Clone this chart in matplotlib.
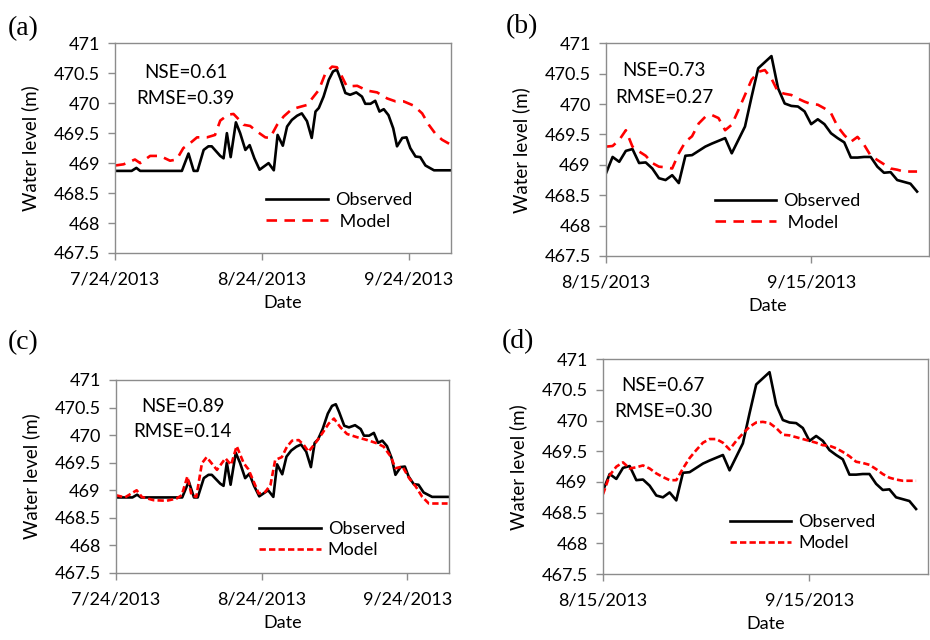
import datetime as dt
import matplotlib
matplotlib.use("Agg")
import matplotlib.pyplot as plt

plt.rcParams['font.family'] = ['Lato', 'DejaVu Sans']

# panels (a)/(c): period starting 7/24/2013, panels (b)/(d): starting 8/15/2013
start_ac = dt.datetime(2013, 7, 24)
start_bd = dt.datetime(2013, 8, 15)

# observed level, site of (a) and (c)  (day offset, value)
obs_ac_day = [0, 3.5, 4.5, 5.3, 14.1, 15.5, 16.6, 17.4, 18.7, 19.7, 20.4, 22.2, 22.9,
              23.6, 24.4, 25.5, 26.4, 27.5, 28.4, 29.4, 30.5, 32.4, 33.5, 34.3, 35.4,
              36.3, 37.3, 38.4, 39.4, 40.5, 41.5, 42.3, 43, 44, 45.1, 46, 46.8, 47.5,
              48.6, 49.6, 50.9, 52.1, 52.8, 53.9, 54.9, 55.8, 56.7, 57.7, 58.7, 59.5,
              60.6, 61.5, 62.3, 63.4, 64.4, 65.5, 67.3, 70.8]
obs_ac = [468.87, 468.87, 468.92, 468.87, 468.87, 469.16, 468.87, 468.87, 469.22, 469.28,
          469.28, 469.12, 469.08, 469.5, 469.1, 469.68, 469.5, 469.22, 469.3, 469.08,
          468.89, 469.0, 468.88, 469.47, 469.29, 469.61, 469.72, 469.79, 469.83, 469.7,
          469.42, 469.86, 469.92, 470.11, 470.39, 470.53, 470.56, 470.42, 470.17, 470.14,
          470.18, 470.11, 469.99, 469.99, 470.04, 469.86, 469.9, 469.8, 469.58, 469.28,
          469.42, 469.43, 469.25, 469.11, 469.1, 468.96, 468.88, 468.88]

mod_a_day = [0, 1.8, 4.2, 5.3, 7.4, 9.5, 11.6, 13, 14.4, 15.8, 17.3, 19.4, 21.1, 22.2,
             23.9, 25, 26.1, 27.1, 28.5, 29.9, 31.7, 32.7, 34.2, 35.6, 37.3, 39.1, 40.5,
             41.9, 43, 44.4, 45.8, 46.8, 47.9, 48.9, 51.1, 53.2, 55.3, 57.4, 59.2, 60.9,
             63, 64.8, 66.2, 67.6, 69, 70.8]
mod_a = [468.96, 468.98, 469.06, 469.0, 469.12, 469.12, 469.04, 469.06, 469.25, 469.33,
         469.43, 469.43, 469.47, 469.71, 469.81, 469.82, 469.73, 469.64, 469.62, 469.53,
         469.43, 469.42, 469.64, 469.78, 469.9, 469.94, 469.97, 470.11, 470.22, 470.5,
         470.61, 470.6, 470.44, 470.28, 470.29, 470.21, 470.18, 470.08, 470.03, 470.03,
         469.96, 469.83, 469.64, 469.49, 469.39, 469.31]

mod_c_day = [0, 1.9, 4.4, 5.5, 8, 10.8, 12.9, 14, 15.2, 16.1, 17.1, 18.3, 19.3, 21.5,
             23.3, 24.5, 25.7, 27.2, 28.2, 29.3, 30.4, 31.8, 32.9, 33.9, 35.3, 36.4,
             37.5, 38.9, 40, 41, 42.5, 43.9, 45.3, 46.4, 47.8, 49.2, 51.4, 53.5, 55.6,
             57, 58.5, 59.5, 61, 62.4, 63.8, 65.2, 66.6, 70.6]
mod_c = [468.91, 468.87, 469.0, 468.88, 468.82, 468.81, 468.85, 468.91, 469.25, 468.91,
         468.88, 469.49, 469.6, 469.37, 469.58, 469.46, 469.8, 469.49, 469.38, 469.16,
         468.94, 468.97, 469.1, 469.55, 469.6, 469.79, 469.9, 469.91, 469.82, 469.7,
         469.86, 470.03, 470.21, 470.3, 470.14, 470.02, 469.96, 469.91, 469.85, 469.79,
         469.61, 469.4, 469.43, 469.22, 469.07, 468.88, 468.76, 468.76]

# observed level, site of (b) and (d)
obs_bd_day = [0, 1, 2, 3, 4, 5, 6, 7, 8, 9, 10, 11, 12, 13, 15, 16, 18, 19, 20, 21, 22,
              23, 25, 26, 27, 28, 29, 30, 31, 32, 33, 34, 35, 36, 37, 38, 39, 40, 41, 42,
              43, 44, 45, 46, 47]
obs_bd = [468.86, 469.13, 469.05, 469.23, 469.26, 469.03, 469.04, 468.94, 468.78, 468.75,
          468.83, 468.7, 469.15, 469.16, 469.3, 469.35, 469.44, 469.19, 469.41, 469.63,
          470.12, 470.59, 470.79, 470.26, 470.01, 469.97, 469.96, 469.88, 469.67, 469.75,
          469.67, 469.52, 469.44, 469.37, 469.12, 469.12, 469.13, 469.13, 468.97, 468.87,
          468.88, 468.75, 468.72, 468.69, 468.56]

# daily model values from 8/15/2013
mod_b = [469.3, 469.31, 469.41, 469.57, 469.3, 469.22, 469.15, 469.03, 468.97, 468.96,
         468.94, 469.19, 469.38, 469.47, 469.68, 469.79, 469.82, 469.77, 469.57, 469.66,
         469.9, 470.15, 470.4, 470.53, 470.56, 470.42, 470.2, 470.17, 470.15, 470.09,
         470.04, 470.0, 469.99, 469.93, 469.85, 469.63, 469.49, 469.38, 469.46, 469.33,
         469.15, 469.08, 469.01, 468.94, 468.92, 468.89, 468.89, 468.89]
mod_d = [468.8, 469.11, 469.25, 469.32, 469.22, 469.24, 469.27, 469.22, 469.14, 469.08,
         469.03, 469.03, 469.22, 469.39, 469.52, 469.64, 469.7, 469.7, 469.64, 469.53,
         469.67, 469.79, 469.9, 469.97, 469.98, 469.96, 469.88, 469.77, 469.76, 469.73,
         469.7, 469.67, 469.64, 469.6, 469.59, 469.55, 469.49, 469.42, 469.33, 469.31,
         469.28, 469.21, 469.13, 469.07, 469.04, 469.02, 469.02, 469.02]

stats = {'a': ('0.61', '0.39'), 'b': ('0.73', '0.27'),
         'c': ('0.89', '0.14'), 'd': ('0.67', '0.30')}

ticks_ac = [dt.datetime(2013, 7, 24), dt.datetime(2013, 8, 24), dt.datetime(2013, 9, 24)]
ticks_bd = [dt.datetime(2013, 8, 15), dt.datetime(2013, 9, 15)]


def to_dates(start, days):
    return [start + dt.timedelta(days=d) for d in days]


def panel(ax, tag, start, span, ticks, o_day, o_val, m_day, m_val, dashes,
          mlabel, leg_xy, txt_xy):
    ax.plot(to_dates(start, o_day), o_val, color='black', lw=1.9, label='Observed')
    ax.plot(to_dates(start, m_day), m_val, color='red', lw=1.9, dashes=dashes,
            label=mlabel)
    ax.set_xlim(start, start + dt.timedelta(days=span))
    ax.set_ylim(467.5, 471)
    ax.set_yticks([467.5 + 0.5 * i for i in range(8)])
    ax.set_yticklabels(['%g' % (467.5 + 0.5 * i) for i in range(8)])
    ax.set_xticks(ticks)
    ax.set_xticklabels([f"{t.month}/{t.day}/{t.year}" for t in ticks])
    for s in ax.spines.values():
        s.set_color('#8c8c8c')
        s.set_linewidth(1.0)
    ax.tick_params(colors='#8c8c8c', labelcolor='black', labelsize=13,
                   length=5, width=1.0)
    ax.tick_params(axis='y', pad=6)
    ax.tick_params(axis='x', pad=8)
    ax.set_xlabel('Date', fontsize=13, labelpad=6)
    ax.set_ylabel('Water level (m)', fontsize=13.5, labelpad=10)
    nse, rmse = stats[tag]
    ax.text(txt_xy[0], txt_xy[1], f'NSE={nse}', transform=ax.transAxes,
            ha='center', va='center', fontsize=13.5)
    ax.text(txt_xy[0], txt_xy[1] - 0.125, f'RMSE={rmse}', transform=ax.transAxes,
            ha='center', va='center', fontsize=13.5)
    ax.legend(loc='upper left', bbox_to_anchor=leg_xy, frameon=False,
              fontsize=13, handlelength=3.4, handletextpad=0.4,
              labelspacing=0.3, borderaxespad=0, borderpad=0)


fig = plt.figure(figsize=(9.3, 6.4), dpi=100)
ax_a = fig.add_axes([0.1237, 0.6047, 0.3613, 0.3277])
ax_b = fig.add_axes([0.6516, 0.6000, 0.3473, 0.3323])
ax_c = fig.add_axes([0.1247, 0.1047, 0.3581, 0.3016])
ax_d = fig.add_axes([0.6484, 0.1031, 0.3495, 0.3355])

panel(ax_a, 'a', start_ac, 70.9, ticks_ac, obs_ac_day, obs_ac, mod_a_day, mod_a,
      (4, 2.8), ' Model', (0.45, 0.29), (0.21, 0.86))
panel(ax_b, 'b', start_bd, 48.8, ticks_bd, obs_bd_day, obs_bd, range(len(mod_b)), mod_b,
      (4, 2.8), ' Model', (0.337, 0.295), (0.18, 0.87))
panel(ax_c, 'c', start_ac, 70.9, ticks_ac, obs_ac_day, obs_ac, mod_c_day, mod_c,
      (2.4, 1.2), 'Model', (0.43, 0.27), (0.2, 0.86))
panel(ax_d, 'd', start_bd, 48.8, ticks_bd, obs_bd_day, obs_bd, range(len(mod_d)), mod_d,
      (2.4, 1.2), 'Model', (0.39, 0.28), (0.185, 0.88))

for lab, x, y in [('(a)', 0.025, 0.955), ('(b)', 0.561, 0.958),
                  ('(c)', 0.025, 0.464), ('(d)', 0.557, 0.466)]:
    fig.text(x, y, lab, fontsize=20, family='Liberation Serif', ha='center', va='center')

fig.savefig('out.png', dpi=100)
